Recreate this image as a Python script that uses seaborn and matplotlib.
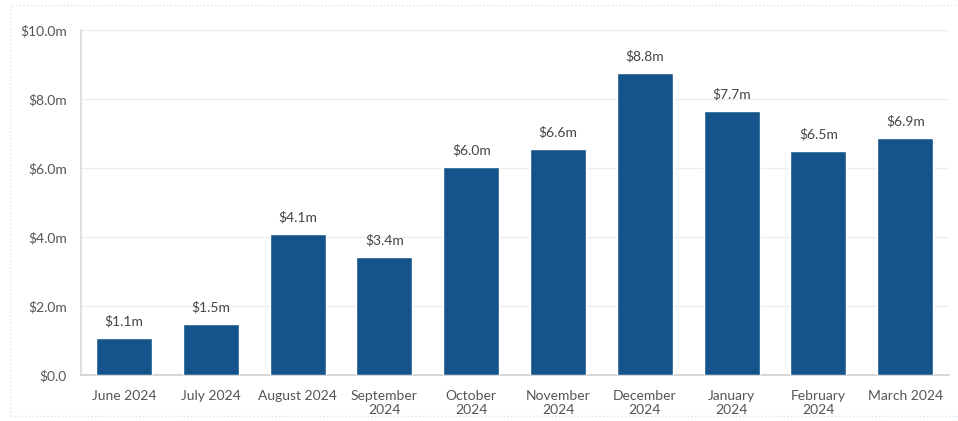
import matplotlib
matplotlib.use("Agg")
import matplotlib.pyplot as plt
import seaborn as sns
import pandas as pd
from matplotlib.patches import Rectangle

months = ["June 2024", "July 2024", "August 2024", "September\n2024", "October\n2024",
          "November\n2024", "December\n2024", "January\n2024", "February\n2024", "March 2024"]
values = [1.07, 1.48, 4.10, 3.42, 6.03, 6.56, 8.76, 7.66, 6.50, 6.86]
yticks = [0, 2, 4, 6, 8, 10]
ytick_labels = ["$0.0", "$2.0m", "$4.0m", "$6.0m", "$8.0m", "$10.0m"]

sns.set_theme(style="white")
plt.rcParams["font.family"] = ["Lato", "DejaVu Sans"]

df = pd.DataFrame({"month": months, "value": values})

fig = plt.figure(figsize=(9.58, 4.21), dpi=100)
ax = fig.add_axes([80.6 / 958, 46 / 421, 868 / 958, 345 / 421])

sns.barplot(data=df, x="month", y="value", color="#15548a", width=0.645,
            saturation=1, ax=ax, zorder=3)

for i, v in enumerate(values):
    ax.text(i, v + 0.3, f"${v:.1f}m", ha="center", va="bottom",
            fontsize=10, color="#444444")

ax.set_xlim(-0.5, len(months) - 0.5)
ax.set_ylim(0, 10)
ax.set_yticks(yticks)
ax.set_yticklabels(ytick_labels)
ax.set_xlabel("")
ax.set_ylabel("")
ax.yaxis.grid(True, color="#eeeeee", linewidth=1, zorder=0)
ax.tick_params(axis="both", labelsize=10, colors="#555555", length=0)
ax.tick_params(axis="x", pad=11)
ax.tick_params(axis="y", pad=10)
for lab in ax.get_xticklabels():
    lab.set_linespacing(1.15)
for s in ["top", "right"]:
    ax.spines[s].set_visible(False)
ax.spines["left"].set_color("#d9d9d9")
ax.spines["bottom"].set_color("#d0d0d0")
ax.spines["left"].set_linewidth(1.2)
ax.spines["bottom"].set_linewidth(1.2)

fig.patches.append(Rectangle((10 / 958, 5 / 421), 950 / 958, 411 / 421,
                             transform=fig.transFigure, fill=False,
                             edgecolor="#cfe6f7", linewidth=1, linestyle=":"))

fig.savefig("out.png", dpi=100)
